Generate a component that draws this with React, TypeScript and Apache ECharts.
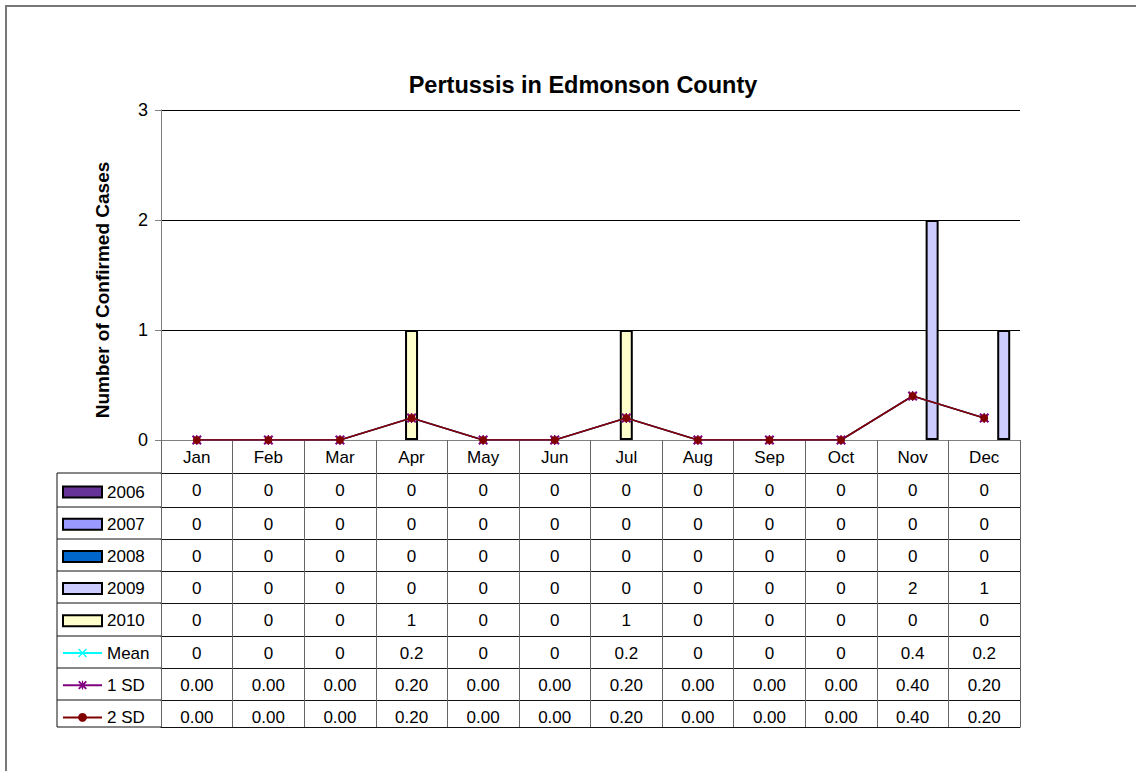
import React, { useEffect, useRef } from "react";
import * as echarts from "echarts";

// ---- data ----
const months = ["Jan", "Feb", "Mar", "Apr", "May", "Jun", "Jul", "Aug", "Sep", "Oct", "Nov", "Dec"];
const y2006 = [0, 0, 0, 0, 0, 0, 0, 0, 0, 0, 0, 0];
const y2007 = [0, 0, 0, 0, 0, 0, 0, 0, 0, 0, 0, 0];
const y2008 = [0, 0, 0, 0, 0, 0, 0, 0, 0, 0, 0, 0];
const y2009 = [0, 0, 0, 0, 0, 0, 0, 0, 0, 0, 2, 1];
const y2010 = [0, 0, 0, 1, 0, 0, 1, 0, 0, 0, 0, 0];
const meanVals = [0, 0, 0, 0.2, 0, 0, 0.2, 0, 0, 0, 0.4, 0.2];
const sd1Vals = [0, 0, 0, 0.2, 0, 0, 0.2, 0, 0, 0, 0.4, 0.2];
const sd2Vals = [0, 0, 0, 0.2, 0, 0, 0.2, 0, 0, 0, 0.4, 0.2];
const yTicks = [0, 1, 2, 3];
const titleText = "Pertussis in Edmonson County";
const yTitle = "Number of Confirmed Cases";

// ---- layout / style ----
const W = 1136;
const H = 771;
const PLOT_LEFT = 161;
const PLOT_RIGHT = 1020;
const PLOT_TOP = 110;
const PLOT_BOTTOM = 440;
const TABLE_LEFT = 57;
const ROW_EDGES = [0, 33, 67, 99, 131, 163, 196, 228, 260, 287]; // offsets below plot bottom
const FONT = "Arial, 'Liberation Sans', sans-serif";
const FS = 17;

const fmtInt = (v: number) => String(v);
const fmt2 = (v: number) => v.toFixed(2);

const rows = [
  { name: "2006", values: y2006, fmt: fmtInt },
  { name: "2007", values: y2007, fmt: fmtInt },
  { name: "2008", values: y2008, fmt: fmtInt },
  { name: "2009", values: y2009, fmt: fmtInt },
  { name: "2010", values: y2010, fmt: fmtInt },
  { name: "Mean", values: meanVals, fmt: fmtInt },
  { name: "1 SD", values: sd1Vals, fmt: fmt2 },
  { name: "2 SD", values: sd2Vals, fmt: fmt2 },
];

const X_PATH = "path://M0,1L1,0L5,4L9,0L10,1L6,5L10,9L9,10L5,6L1,10L0,9L4,5Z";
const STAR_PATH =
  "path://M0,1.5L1.5,0L5,3.5L8.5,0L10,1.5L6.5,5L10,8.5L8.5,10L5,6.5L1.5,10L0,8.5L3.5,5Z M4.3,0H5.7V10H4.3Z";

// zero-height columns draw no outline (as in the original)
const barData = (vals: number[]) =>
  vals.map((v) => (v === 0 ? { value: v, itemStyle: { borderWidth: 0 } } : v));

export default function App() {
  const ref = useRef<HTMLDivElement>(null);

  useEffect(() => {
    if (!ref.current) return;
    const chart = echarts.init(ref.current, null, { renderer: "svg" });

    const labelStyle = { fontSize: FS, color: "#000", fontFamily: FONT };

    const xAxes: any[] = [];
    // header axis (month names)
    xAxes.push({
      type: "category",
      data: months,
      position: "bottom",
      offset: 0,
      gridIndex: 0,
      axisLine: { show: true, lineStyle: { color: "#808080", width: 1 } },
      axisTick: { show: true, interval: 0, length: ROW_EDGES[1] - ROW_EDGES[0], lineStyle: { color: "#666", width: 1 } },
      axisLabel: { ...labelStyle, interval: 0, margin: 17, verticalAlign: "middle" },
      splitLine: { show: false },
    });
    rows.forEach((r, i) => {
      const top = ROW_EDGES[i + 1];
      const len = ROW_EDGES[i + 2] - top;
      xAxes.push({
        type: "category",
        data: months,
        position: "bottom",
        offset: top,
        gridIndex: 0,
        axisLine: { show: true, lineStyle: { color: "#111", width: 1 } },
        axisTick: { show: true, interval: 0, length: len, lineStyle: { color: "#666", width: 1 } },
        axisLabel: {
          ...labelStyle,
          interval: 0,
          margin: 17.5,
          verticalAlign: "middle",
          formatter: (_v: string, idx: number) => r.fmt(r.values[idx]),
        },
        splitLine: { show: false },
      });
    });
    // bottom border of the data table
    xAxes.push({
      type: "category",
      data: months,
      position: "bottom",
      offset: ROW_EDGES[ROW_EDGES.length - 1],
      gridIndex: 0,
      axisLine: { show: true, lineStyle: { color: "#111", width: 1 } },
      axisTick: { show: false },
      axisLabel: { show: false },
    });

    const barStyle = (c: string) => ({ color: c, borderColor: "#000", borderWidth: 2 });

    const graphics: any[] = [
      {
        type: "rect",
        shape: { x: 6, y: 6, width: W + 40, height: H + 40 },
        style: { fill: "none", stroke: "#777", lineWidth: 2 },
        silent: true,
      },
      {
        type: "text",
        x: 583,
        y: 85,
        style: {
          text: titleText,
          fontSize: 23.5,
          fontWeight: "bold",
          fontFamily: FONT,
          fill: "#000",
          align: "center",
          verticalAlign: "middle",
        },
      },
      {
        type: "text",
        x: 102,
        y: 290,
        rotation: Math.PI / 2,
        style: {
          text: yTitle,
          fontSize: 19,
          fontWeight: "bold",
          fontFamily: FONT,
          fill: "#000",
          align: "center",
          verticalAlign: "middle",
        },
      },
      {
        type: "line",
        shape: {
          x1: TABLE_LEFT,
          y1: PLOT_BOTTOM + ROW_EDGES[1],
          x2: TABLE_LEFT,
          y2: PLOT_BOTTOM + ROW_EDGES[ROW_EDGES.length - 1],
        },
        style: { stroke: "#111", lineWidth: 1 },
      },
    ];
    for (let i = 1; i < ROW_EDGES.length; i++) {
      graphics.push({
        type: "line",
        shape: { x1: TABLE_LEFT, y1: PLOT_BOTTOM + ROW_EDGES[i], x2: PLOT_LEFT, y2: PLOT_BOTTOM + ROW_EDGES[i] },
        style: { stroke: "#111", lineWidth: 1 },
      });
    }

    chart.setOption({
      animation: false,
      backgroundColor: "#fff",
      grid: {
        left: PLOT_LEFT,
        right: W - PLOT_RIGHT,
        top: PLOT_TOP,
        bottom: H - PLOT_BOTTOM,
      },
      legend: {
        orient: "vertical",
        left: 62,
        top: 482,
        padding: 0,
        itemWidth: 39,
        itemHeight: 11,
        itemGap: 12.2,
        selectedMode: false,
        textStyle: { fontSize: FS, color: "#000", fontFamily: FONT, lineHeight: 20 },
        data: [
          { name: "2006", icon: "rect" },
          { name: "2007", icon: "rect" },
          { name: "2008", icon: "rect" },
          { name: "2009", icon: "rect" },
          { name: "2010", icon: "rect" },
          { name: "Mean" },
          { name: "1 SD" },
          { name: "2 SD" },
        ],
      },
      xAxis: xAxes,
      yAxis: {
        type: "value",
        min: yTicks[0],
        max: yTicks[yTicks.length - 1],
        interval: 1,
        axisLine: { show: true, lineStyle: { color: "#808080", width: 1 } },
        axisTick: { show: true, length: 6, lineStyle: { color: "#808080" } },
        axisLabel: { fontSize: 18, color: "#000", fontFamily: FONT, margin: 13 },
        splitLine: { show: true, lineStyle: { color: ["#808080", "#000", "#000", "#000"], width: 1 } },
      },
      graphic: graphics,
      series: [
        { name: "2006", type: "bar", xAxisIndex: 0, data: barData(y2006), barWidth: 13, barGap: "0%", itemStyle: barStyle("#663399") },
        { name: "2007", type: "bar", xAxisIndex: 0, data: barData(y2007), barWidth: 13, barGap: "0%", itemStyle: barStyle("#9999FF") },
        { name: "2008", type: "bar", xAxisIndex: 0, data: barData(y2008), barWidth: 13, barGap: "0%", itemStyle: barStyle("#0066CC") },
        { name: "2009", type: "bar", xAxisIndex: 0, data: barData(y2009), barWidth: 13, barGap: "0%", itemStyle: barStyle("#CCCCFF") },
        { name: "2010", type: "bar", xAxisIndex: 5, data: barData(y2010), barWidth: 13, itemStyle: barStyle("#FFFFCC") },
        {
          name: "Mean",
          type: "line",
          xAxisIndex: 0,
          data: meanVals,
          symbol: X_PATH,
          symbolSize: 8,
          lineStyle: { color: "#00FFFF", width: 1.5 },
          itemStyle: { color: "#00FFFF" },
        },
        {
          name: "1 SD",
          type: "line",
          xAxisIndex: 0,
          data: sd1Vals,
          symbol: STAR_PATH,
          symbolSize: 10,
          lineStyle: { color: "#800080", width: 1.5 },
          itemStyle: { color: "#800080" },
        },
        {
          name: "2 SD",
          type: "line",
          xAxisIndex: 0,
          data: sd2Vals,
          symbol: "circle",
          symbolSize: 8,
          lineStyle: { color: "#800000", width: 1.5 },
          itemStyle: { color: "#800000" },
        },
      ],
    });

    return () => chart.dispose();
  }, []);

  return (
    <div
      ref={ref}
      style={{ position: "fixed", left: 0, top: 0, width: W, height: H, background: "#fff" }}
    />
  );
}
